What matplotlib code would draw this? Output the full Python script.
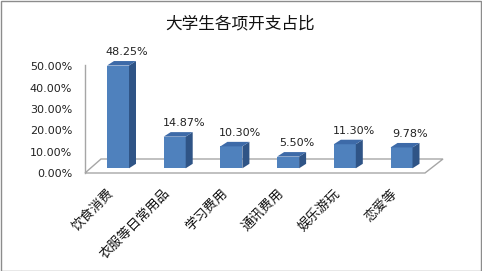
import matplotlib
matplotlib.use("Agg")
import matplotlib.pyplot as plt
from matplotlib.patches import Polygon, Rectangle

plt.rcParams["font.family"] = ["Noto Sans CJK SC", "DejaVu Sans"]

title = "大学生各项开支占比"
categories = ["饮食消费", "衣服等日常用品", "学习费用", "通讯费用", "娱乐游玩", "恋爱等"]
shares = [48.25, 14.87, 10.30, 5.50, 11.30, 9.78]
yticks = [0, 10, 20, 30, 40, 50]

W, H = 482, 271
fig = plt.figure(figsize=(W / 100, H / 100), dpi=100)
ax = fig.add_axes([0, 0, 1, 1])
ax.axis("off")

# layout in pixels: first bar centre, bar spacing, bar base (from top), px per percent
x_first, x_step = 118, 56.7
y_zero, y_unit = 168.3, 2.13
ax.set_xlim(-x_first / x_step, (W - x_first) / x_step)
ax.set_ylim(-(H - y_zero) / y_unit, y_zero / y_unit)


def X(px):  # absolute pixel column -> data x
    return (px - x_first) / x_step


def Y(py):  # absolute pixel row (from top) -> data y
    return (y_zero - py) / y_unit


grey = "#a6a6a6"
front_c, side_c, top_c = "#4f81bd", "#2f5486", "#3d6aa8"

# floor of the 3-D box and the value axis line
floor = Polygon([(X(85), Y(173)), (X(425), Y(173)), (X(443), Y(159)), (X(101), Y(159))],
                closed=True, facecolor="white", edgecolor=grey, lw=1, zorder=1)
ax.add_patch(floor)
ax.plot([X(85), X(85)], [Y(173), Y(65)], color=grey, lw=1, zorder=1)

# bars
hw = 11 / x_step
ddx, ddy = 7 / x_step, 4.5 / y_unit
for i, v in enumerate(shares):
    ax.add_patch(Rectangle((i - hw, 0), 2 * hw, v, facecolor=front_c, edgecolor="none", zorder=3))
    ax.add_patch(Polygon([(i + hw, 0), (i + hw + ddx, ddy), (i + hw + ddx, v + ddy), (i + hw, v)],
                         facecolor=side_c, edgecolor="none", zorder=3))
    ax.add_patch(Polygon([(i - hw, v), (i + hw, v), (i + hw + ddx, v + ddy), (i - hw + ddx, v + ddy)],
                         facecolor=top_c, edgecolor="none", zorder=3))
    ax.text(i + 9 / x_step, v + 13.5 / y_unit, f"{v:.2f}%", ha="center", va="center",
            fontsize=8, family="DejaVu Sans", color="#222222")
    ax.text(i - 11 / x_step, Y(187), categories[i], rotation=45, rotation_mode="anchor",
            ha="right", va="top", fontsize=9.5, color="#111111")

# value axis tick labels (front plane of the box)
front_shift = (y_zero - 174) / y_unit
for t in yticks:
    ax.text(X(72), t + front_shift, f"{t:.2f}%", ha="right", va="center",
            fontsize=8, family="DejaVu Sans", color="#222222")

fig.text(0.498, 1 - 24 / H, title, ha="center", va="center", fontsize=12, color="#111111")

fig.patches.append(Rectangle((0.5 / W, 0.5 / H), 1 - 1.5 / W, 1 - 1.5 / H, transform=fig.transFigure,
                             facecolor="none", edgecolor="#8c8c8c", lw=1))

fig.savefig("out.png", dpi=100)
